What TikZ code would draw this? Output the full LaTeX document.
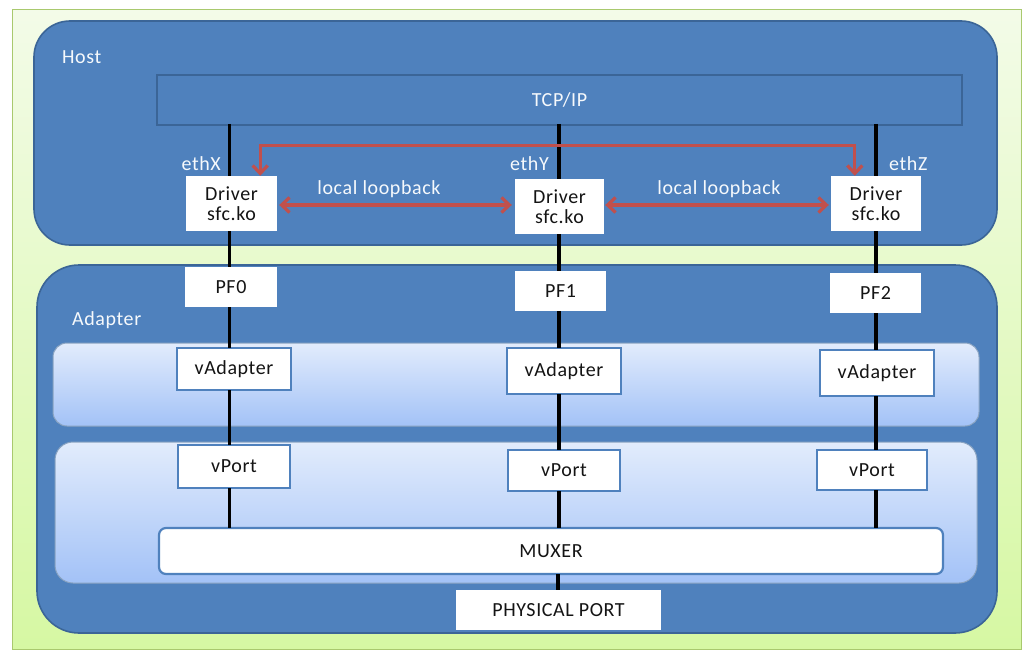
\documentclass[tikz,border=0pt]{standalone}
\usepackage{fontspec}
\setmainfont{Carlito}[LetterSpace=3]
\usetikzlibrary{arrows.meta,calc}
\definecolor{hostblue}{HTML}{4F81BD}
\definecolor{hostedge}{HTML}{3B6597}
\definecolor{bandtop}{HTML}{E2ECFC}
\definecolor{bandbot}{HTML}{A3C2F7}
\definecolor{greentop}{HTML}{F3FBE8}
\definecolor{greenbot}{HTML}{D6F8A3}
\definecolor{greenedge}{HTML}{A9C96E}
\definecolor{loopred}{HTML}{C0504D}
\definecolor{txt}{HTML}{141414}
\begin{document}
\begin{tikzpicture}[x=1pt,y=-1pt,
  font=\fontsize{20}{20}\selectfont,
  region/.style={draw=hostedge,line width=1.6pt,fill=hostblue},
  band/.style={draw=hostedge!60,line width=1pt,top color=bandtop,bottom color=bandbot},
  plainbox/.style={fill=white,text=txt,inner sep=0pt,align=center},
  edgebox/.style={plainbox,draw=hostblue,line width=2.2pt},
  lbl/.style={text=white!95!hostblue,inner sep=0pt},
  link/.style={line width=3.2pt,black},
  loopboth/.style={line width=3.2pt,loopred,
    {Straight Barb[length=8pt,width=15pt]}-{Straight Barb[length=8pt,width=15pt]}}
]
% background
\path[use as bounding box] (0,0) rectangle (1027,650);
\fill[white] (0,0) rectangle (1027,650);
\draw[greenedge,line width=1pt,top color=greentop,bottom color=greenbot] (12,10) rectangle (1021,649);

% regions
\draw[region,rounded corners=36pt] (34,21) rectangle (997,245);
\draw[region,rounded corners=42pt] (37,265) rectangle (997,633);
\draw[band,rounded corners=14pt] (53,343) rectangle (979,426);
\draw[band,rounded corners=18pt] (55,442) rectangle (977,583);

% TCP/IP
\node[draw=hostedge,line width=1.6pt,fill=hostblue,minimum width=805pt,minimum height=50pt,inner sep=0pt,text=white!95!hostblue] (tcp) at (559.5,100) {TCP/IP};

% columns
\coordinate (cX) at (229.5,0);
\coordinate (cY) at (559,0);
\coordinate (cZ) at (876,0);
\coordinate (cM) at (558,0);
\coordinate (ly) at (0,205);

% drivers
\node[plainbox,minimum width=91pt,minimum height=55pt] (dX) at (231.5,203.5) {Driver\\sfc.ko};
\node[plainbox,minimum width=89pt,minimum height=55pt] (dY) at (559.5,206.5) {Driver\\sfc.ko};
\node[plainbox,minimum width=90pt,minimum height=55pt] (dZ) at (876,203.5) {Driver\\sfc.ko};

% PFs
\node[plainbox,minimum width=92pt,minimum height=40pt] (pf0) at (231,287) {PF0};
\node[plainbox,minimum width=91pt,minimum height=40pt] (pf1) at (560.5,291) {PF1};
\node[plainbox,minimum width=91pt,minimum height=40pt] (pf2) at (875.5,293) {PF2};

% vAdapters
\node[edgebox,minimum width=114pt,minimum height=42pt] (va0) at (234,369) {vAdapter};
\node[edgebox,minimum width=114pt,minimum height=46pt] (va1) at (564,371) {vAdapter};
\node[edgebox,minimum width=114pt,minimum height=46pt] (va2) at (877,373) {vAdapter};

% vPorts
\node[edgebox,minimum width=112pt,minimum height=43pt] (vp0) at (234,466.5) {vPort};
\node[edgebox,minimum width=112pt,minimum height=41pt] (vp1) at (564,470.5) {vPort};
\node[edgebox,minimum width=110pt,minimum height=40pt] (vp2) at (872,470) {vPort};

% MUXER and physical port
\node[edgebox,rounded corners=7pt,minimum width=784pt,minimum height=46pt] (mux) at (551,551) {MUXER};
\node[plainbox,minimum width=205pt,minimum height=40pt] (pp) at (558.5,610) {PHYSICAL PORT};

% black links
\foreach \c/\d/\p/\a/\v in {cX/dX/pf0/va0/vp0, cY/dY/pf1/va1/vp1, cZ/dZ/pf2/va2/vp2}{
  \draw[link] ([yshift=2pt]\c |- tcp.south) -- (\c |- \d.north);
  \draw[link] (\c |- \d.south) -- (\c |- \p.north);
  \draw[link] (\c |- \p.south) -- ([yshift=-1.1pt]\c |- \a.north);
  \draw[link] ([yshift=1.1pt]\c |- \a.south) -- ([yshift=-1.1pt]\c |- \v.north);
  \draw[link] ([yshift=1.1pt]\c |- \v.south) -- ([yshift=-1.1pt]\c |- mux.north);
}
\draw[link] ([yshift=1.1pt]cM |- mux.south) -- (cM |- pp.north);

% red loopback arrows
\draw[loopboth] ($(dX.north east)+(-17,0)$) -- ++(0,-30) -| ($(dZ.north west)+(24,0)$);
\draw[loopboth] ([xshift=2pt]dX.east |- ly) -- ([xshift=-3pt]dY.west |- ly);
\draw[loopboth] ([xshift=1pt]dY.east |- ly) -- ([xshift=-2pt]dZ.west |- ly);

% labels
\node[lbl,anchor=west] (lhost) at (62,57) {Host};
\node[lbl,anchor=west] (ladapter) at (72,320) {Adapter};
\node[lbl,anchor=east] (lx) at (221,164) {ethX};
\node[lbl,anchor=east] (lyy) at (549,164) {ethY};
\node[lbl,anchor=west] (lz) at (889,164) {ethZ};
\node[lbl] (ll1) at (379,189) {local loopback};
\node[lbl] (ll2) at (719,189) {local loopback};
\end{tikzpicture}
\end{document}
